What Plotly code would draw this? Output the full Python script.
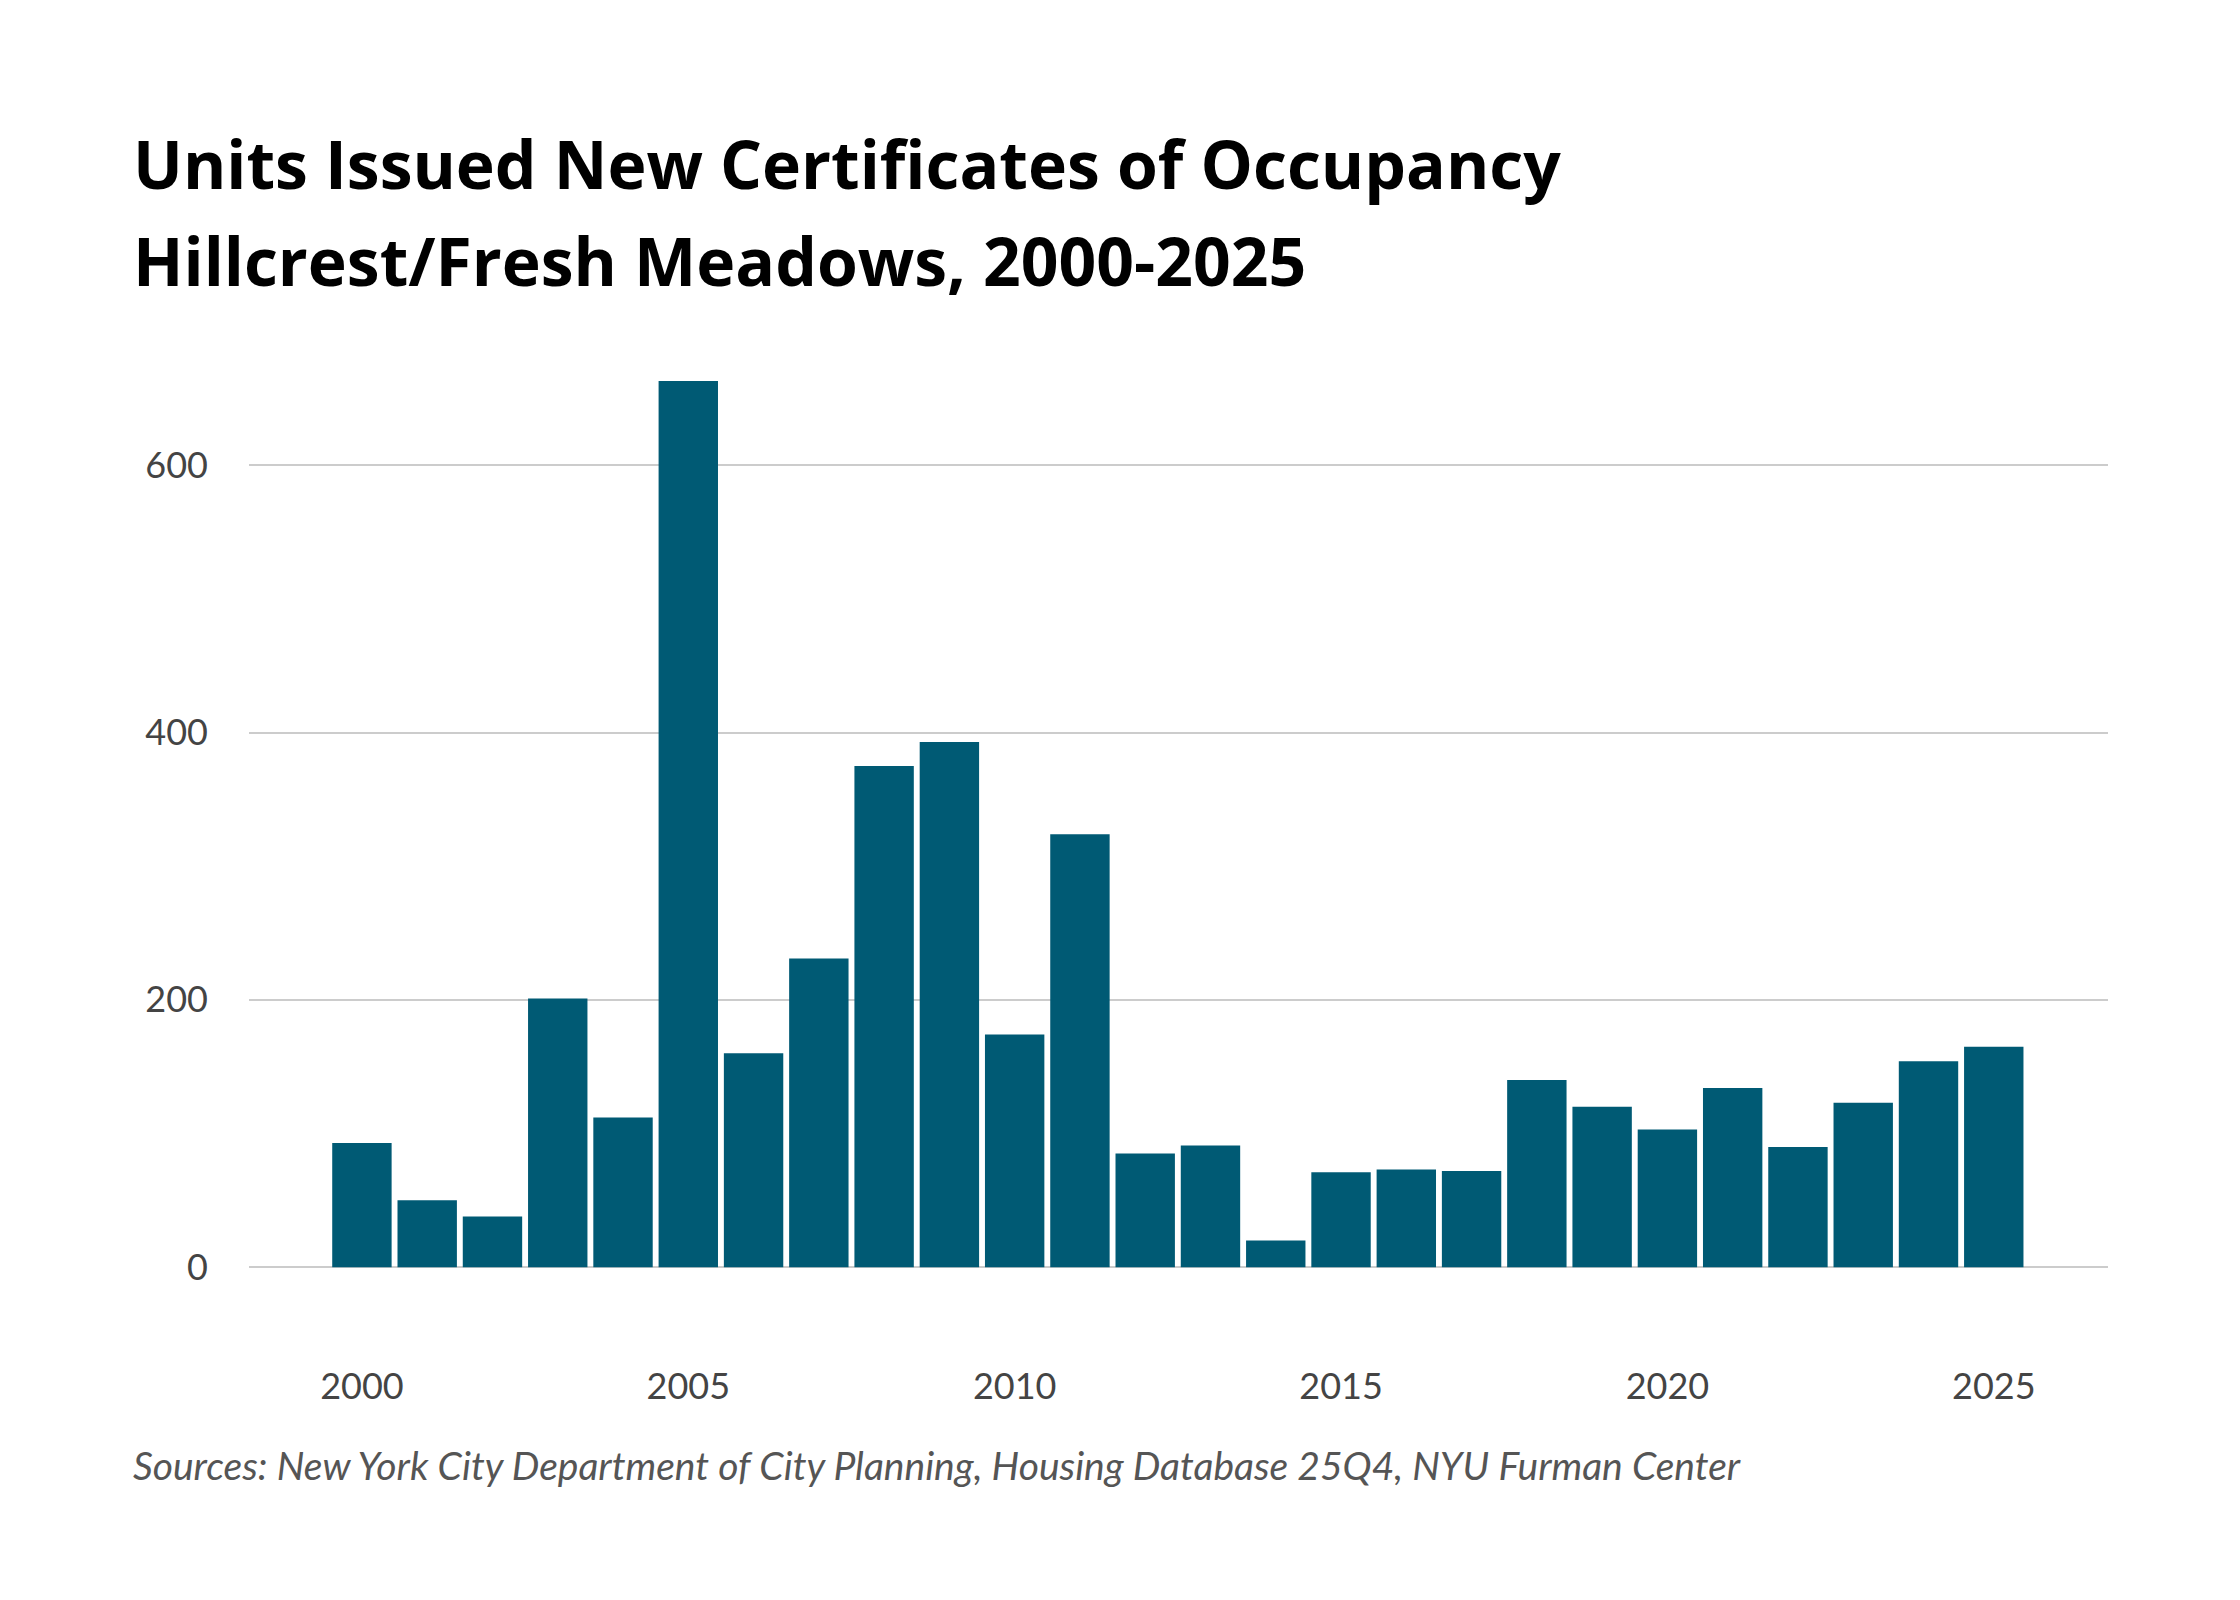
import plotly.graph_objects as go

years = list(range(2000, 2026))
units = [93, 50, 38, 201, 112, 663, 160, 231, 375, 393, 174, 324, 85, 91, 20,
         71, 73, 72, 140, 120, 103, 134, 90, 123, 154, 165]
x_ticks = [2000, 2005, 2010, 2015, 2020, 2025]
y_ticks = [0, 200, 400, 600]

L, R, T, B = 241, 140, 349, 274
pw = 2240 - L - R
ph = 1600 - T - B

fig = go.Figure()
fig.add_trace(go.Bar(x=years, y=units, marker=dict(color='#005a74', line=dict(width=0)), width=0.91))

fig.update_layout(
    width=2240, height=1600,
    paper_bgcolor='white', plot_bgcolor='white',
    margin=dict(l=L, r=R, t=T, b=B),
    showlegend=False,
    font=dict(family='Lato', color='#444444', size=36),
)
fig.update_xaxes(range=[1998.27, 2026.75], tickvals=x_ticks, showgrid=False, zeroline=False,
                 showline=False, ticks='', ticklabelstandoff=28)
fig.update_yaxes(range=[-50, 681], tickvals=y_ticks, showgrid=True, gridcolor='#cccccc',
                 gridwidth=1.5, zeroline=False, showline=False, ticks='', ticklabelstandoff=40)

for txt, ypx in [('<b>Units Issued New Certificates of Occupancy</b>', 155),
                 ('<b>Hillcrest/Fresh Meadows, 2000-2025</b>', 252)]:
    fig.add_annotation(text=txt, xref='paper', yref='paper',
                       x=(123 - L) / pw, y=1 + (T - ypx) / ph,
                       xanchor='left', yanchor='middle', showarrow=False,
                       font=dict(family='Open Sans', size=66, color='#000000'))
fig.add_annotation(text='<i>Sources: New York City Department of City Planning, Housing Database 25Q4, NYU Furman Center</i>',
                   xref='paper', yref='paper', x=(123 - L) / pw,
                   y=-(1457 - (1600 - B)) / ph, xanchor='left', yanchor='middle',
                   showarrow=False, font=dict(family='Lato', size=39, color='#555555'))

fig.write_html('out.html')
